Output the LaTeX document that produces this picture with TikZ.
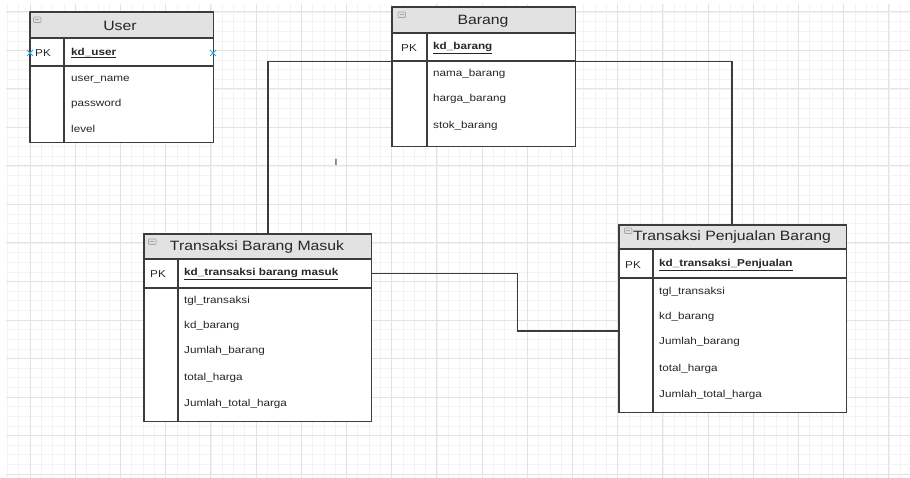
\documentclass[tikz,border=0pt]{standalone}
\usepackage{fontspec}
\setmainfont{Liberation Sans}[FakeStretch=1.17]
\definecolor{boxc}{HTML}{3C3C3C}
\definecolor{hdrc}{HTML}{E2E2E2}
\definecolor{txtc}{HTML}{262626}
\definecolor{gridmaj}{HTML}{E3E3E3}
\definecolor{gridmin}{HTML}{F3F3F3}
\definecolor{markc}{HTML}{3BA3E0}
\tikzset{
  border/.style={draw=boxc, line width=1.7pt, line join=round},
  inner/.style={draw=boxc, line width=1.4pt},
  link/.style={draw=boxc, line width=1.4pt},
  fld/.style={anchor=west, inner sep=0pt, text=txtc, font=\fontsize{10}{12}\selectfont},
  keyfld/.style={fld, font=\fontsize{10}{12}\selectfont\bfseries},
  ttl/.style={inner sep=0pt, text=txtc, font=\fontsize{13.5}{16}\selectfont},
  rowbox/.style={inner sep=0pt, anchor=north west},
}
% one entity table: name, x1, y1, x2, y2, header bottom, key row bottom, divider x
\newcommand\ertable[8]{%
  \pgfmathsetmacro\tw{#4-#2}%
  \pgfmathsetmacro\th{#5-#3}%
  \pgfmathsetmacro\ph{#7-#6}%
  \node[rowbox, fill=white, minimum width=\tw pt, minimum height=\th pt] (#1) at (#2,#3) {};
  \fill[hdrc] (#2,#3) rectangle (#4,#6);
  \node[rowbox, minimum width=\tw pt, minimum height=\ph pt] (#1pk) at (#2,#6) {};
  \draw[inner] (#2,#6) -- (#4,#6);
  \draw[inner] (#2,#7) -- (#4,#7);
  \draw[inner] (#8,#6) -- (#8,#5);
  \draw[border] (#1.north west) rectangle (#1.south east);
}
% collapse icon in a table header
\newcommand\hdicon[2]{%
  \draw[draw=gray!70, fill=gray!25, line width=0.6pt, rounded corners=0.8pt] (#1,#2) rectangle ++(7.5,5.5);
  \draw[gray!70, line width=0.6pt] ($(#1,#2)+(1.8,2.75)$) -- ++(4,0);
}
\usetikzlibrary{calc}
\begin{document}
\begin{tikzpicture}[x=1pt,y=-1pt]
\useasboundingbox (0,0) rectangle (910,478);
\fill[white] (0,0) rectangle (910,478);

% background grid
\begin{scope}
  \clip (6,4) rectangle (910,478);
  \foreach \k in {0,...,80} {
    \draw[gridmin, line width=0.6pt] (7.4+11.3*\k,4) -- (7.4+11.3*\k,478);
  }
  \foreach \k in {-1,...,48} {
    \draw[gridmin, line width=0.6pt] (6,12+9.625*\k) -- (910,12+9.625*\k);
  }
  \foreach \k in {0,...,19} {
    \draw[gridmaj, line width=1pt] (30+45.2*\k,4) -- (30+45.2*\k,478);
  }
  \foreach \k in {0,...,12} {
    \draw[gridmaj, line width=1pt] (6,12+38.5*\k) -- (910,12+38.5*\k);
  }
\end{scope}

% connector end points on the transaction tables
\coordinate (masukTop) at (268,234);
\coordinate (jualTop) at (732,225);
\coordinate (jualSide) at (619,331);

% tables
\ertable{user}{30}{12}{213}{142}{38}{66}{64}
\ertable{barang}{392}{7}{575}{146}{33}{61}{427}
\ertable{masuk}{144}{234}{371}{421}{259}{288}{178}
\ertable{jual}{619}{225}{846}{412}{249}{278}{653}

% relationships
\draw[link] (barangpk.south west) -| (masukTop);
\draw[link] (barangpk.south east) -| (jualTop);
\draw[link] (masukpk.east) -- ++(146,0) |- (jualSide);
\draw[border] (barang.north west) rectangle (barang.south east);
\draw[border] (masuk.north west) rectangle (masuk.south east);
\draw[border] (jual.north west) rectangle (jual.south east);

% header icons
\hdicon{33.5}{17}
\hdicon{398}{12}
\hdicon{148.5}{239}
\hdicon{624.5}{228}

% User
\node[ttl] (userT) at (120,26) {User};
\node[fld] (userPK) at (35,53) {PK};
\node[keyfld] (userK) at (71,53) {\underline{kd\_user}};
\node[fld] (userF1) at (71,80) {user\_name};
\node[fld] (userF2) at (71,104) {password};
\node[fld] (userF3) at (71,129) {level};
\foreach \p in {(30,53),(213,53)} {
  \draw[markc, line width=0.8pt] \p ++(-3,-3) -- ++(6,6) \p ++(-3,3) -- ++(6,-6);
}

% Barang
\node[ttl] (barangT) at (483,21) {Barang};
\node[fld] (barangPK) at (401,48) {PK};
\node[keyfld] (barangK) at (433,48) {\underline{kd\_barang}};
\node[fld] (barangF1) at (433,74) {nama\_barang};
\node[fld] (barangF2) at (433,99) {harga\_barang};
\node[fld] (barangF3) at (433,126) {stok\_barang};

% Transaksi Barang Masuk
\node[ttl] (masukT) at (257,247) {Transaksi Barang Masuk};
\node[fld] (masukPK) at (150,274) {PK};
\node[keyfld] (masukK) at (184,274) {\underline{kd\_transaksi barang masuk}};
\node[fld] (masukF1) at (184,301) {tgl\_transaksi};
\node[fld] (masukF2) at (184,326) {kd\_barang};
\node[fld] (masukF3) at (184,351) {Jumlah\_barang};
\node[fld] (masukF4) at (184,378) {total\_harga};
\node[fld] (masukF5) at (184,404) {Jumlah\_total\_harga};

% Transaksi Penjualan Barang
\node[ttl] (jualT) at (732,237) {Transaksi Penjualan Barang};
\node[fld] (jualPK) at (625,265) {PK};
\node[keyfld] (jualK) at (659,265) {\underline{kd\_transaksi\_Penjualan}};
\node[fld] (jualF1) at (659,292) {tgl\_transaksi};
\node[fld] (jualF2) at (659,317) {kd\_barang};
\node[fld] (jualF3) at (659,342) {Jumlah\_barang};
\node[fld] (jualF4) at (659,369) {total\_harga};
\node[fld] (jualF5) at (659,395) {Jumlah\_total\_harga};

% text cursor mark
\node[fld, anchor=center, font=\fontsize{9}{10}\selectfont] (cursor) at (336,162) {I};
\end{tikzpicture}
\end{document}
